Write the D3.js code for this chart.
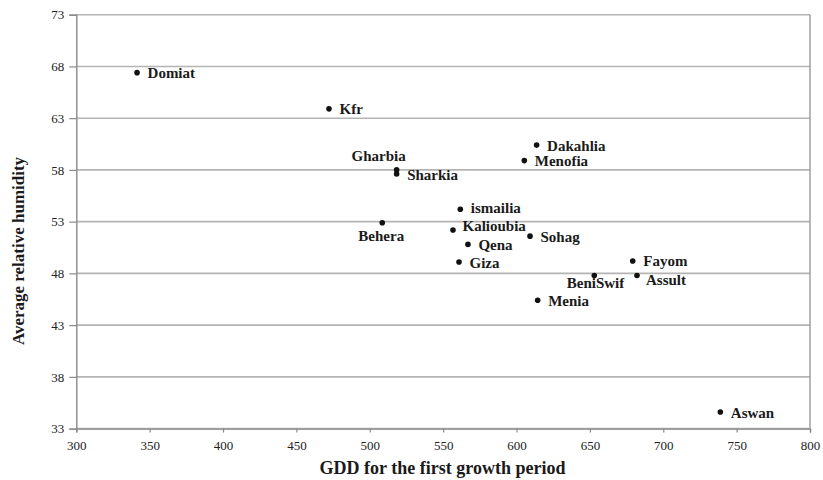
<!DOCTYPE html>
<html>
<head>
<meta charset="utf-8">
<script src="https://cdn.jsdelivr.net/npm/d3@7"></script>
<style>
  html, body { margin: 0; padding: 0; background: #fff; }
  svg { display: block; font-family: "Liberation Serif", "Times New Roman", serif; }
</style>
</head>
<body>
<svg id="chart" width="823" height="480"></svg>
<script>
// Governorates: GDD for the first growth period vs. average relative humidity
const governorates = ["Domiat", "Kfr", "Gharbia", "Sharkia", "Dakahlia", "Menofia", "ismailia",
  "Behera", "Kalioubia", "Sohag", "Qena", "Giza", "Menia", "BeniSwif", "Fayom", "Assult", "Aswan"];
const gdd = [341.4, 472.2, 518.3, 518.3, 613.7, 605.3, 561.7,
  508.5, 556.7, 609.2, 566.9, 560.8, 614.4, 653.0, 679.2, 682.1, 738.9];
const humidity = [67.4, 63.9, 58.0, 57.6, 60.4, 58.9, 54.2,
  52.9, 52.2, 51.6, 50.8, 49.1, 45.4, 47.8, 49.2, 47.8, 34.6];
// label placement: r = right of point, ru = right, slightly raised, a = above-left,
// b = below, ar = above-right, bl = below-left, rb = right, slightly lowered
const labelPos = ["r", "r", "a", "r", "r", "r", "ru",
  "b", "ar", "r", "r", "r", "r", "bl", "r", "rb", "r"];

const xTicks = [300, 350, 400, 450, 500, 550, 600, 650, 700, 750, 800];
const yTicks = [33, 38, 43, 48, 53, 58, 63, 68, 73];

(function draw() {
  const svg = d3.select("#chart");
  const plotL = 76.3, plotR = 810, plotT = 14.7, plotB = 428.6;

  const x = d3.scaleLinear().domain([300, 800]).range([plotL, plotR]);
  const y = d3.scaleLinear().domain([33, 73]).range([plotB, plotT]);

  // horizontal gridlines
  svg.append("g").selectAll("line").data(yTicks).join("line")
    .attr("x1", plotL).attr("x2", plotR)
    .attr("y1", d => y(d)).attr("y2", d => y(d))
    .attr("stroke", "#b4b4b4").attr("stroke-width", 1.6);

  // right border of plot area
  svg.append("line").attr("x1", plotR).attr("x2", plotR).attr("y1", plotT).attr("y2", plotB)
    .attr("stroke", "#9a9a9a").attr("stroke-width", 1.4);

  // axes
  const xAxis = svg.append("g").attr("transform", `translate(0,${plotB})`)
    .call(d3.axisBottom(x).tickValues(xTicks).tickSize(4).tickPadding(6).tickFormat(d3.format("d")));
  const yAxis = svg.append("g").attr("transform", `translate(${plotL},0)`)
    .call(d3.axisLeft(y).tickValues(yTicks).tickSize(7).tickPadding(5).tickFormat(d3.format("d")));
  [xAxis, yAxis].forEach(g => {
    g.select(".domain").attr("stroke", "#8a8a8a").attr("stroke-width", 1.4);
    g.selectAll(".tick line").attr("stroke", "#8a8a8a").attr("stroke-width", 1.2);
    g.selectAll(".tick text").attr("fill", "#222").attr("font-size", 13)
      .attr("font-family", "Liberation Serif, serif");
  });
  xAxis.selectAll(".tick text").attr("dy", "0.85em");

  // points
  const data = governorates.map((name, i) => ({ name, gx: gdd[i], hy: humidity[i], pos: labelPos[i] }));
  svg.append("g").selectAll("circle").data(data).join("circle")
    .attr("cx", d => x(d.gx)).attr("cy", d => y(d.hy)).attr("r", 2.8).attr("fill", "#111");

  // point labels
  const offsets = {
    r:  { dx: 10.5, dy: 5.5, anchor: "start" },
    ru: { dx: 10.5, dy: 4, anchor: "start" },
    rb: { dx: 9, dy: 9.5, anchor: "start" },
    a:  { dx: -18, dy: -8.5, anchor: "middle" },
    b:  { dx: -1, dy: 18, anchor: "middle" },
    ar: { dx: 9.5, dy: 1, anchor: "start" },
    bl: { dx: 30, dy: 13, anchor: "end" }
  };
  svg.append("g").selectAll("text").data(data).join("text")
    .attr("x", d => x(d.gx) + offsets[d.pos].dx)
    .attr("y", d => y(d.hy) + offsets[d.pos].dy)
    .attr("text-anchor", d => offsets[d.pos].anchor)
    .attr("font-size", 15).attr("font-weight", "bold").attr("fill", "#1a1a1a")
    .text(d => d.name);

  // axis titles
  svg.append("text").attr("x", 442.5).attr("y", 473.5)
    .attr("text-anchor", "middle").attr("font-size", 18).attr("font-weight", "bold").attr("fill", "#1a1a1a")
    .text("GDD for the first growth period");
  svg.append("text").attr("transform", "translate(24,251) rotate(-90)")
    .attr("text-anchor", "middle").attr("font-size", 17).attr("font-weight", "bold").attr("fill", "#1a1a1a")
    .text("Average relative humidity");
})();
</script>
</body>
</html>
